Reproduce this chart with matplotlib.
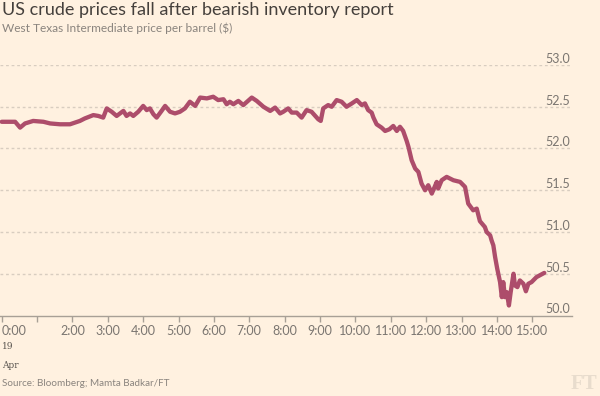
import matplotlib
matplotlib.use("Agg")
import matplotlib.pyplot as plt
from matplotlib.ticker import FixedLocator, FixedFormatter

# ---- data (hours since 0:00, 19 Apr; WTI price $) ----
hours = [
    0.00, 0.38, 0.52, 0.66, 0.89, 1.18, 1.37, 1.65, 1.93, 2.21,
    2.35, 2.59, 2.73, 2.87, 2.97, 3.11, 3.25, 3.44, 3.53, 3.63,
    3.72, 3.86, 4.00, 4.10, 4.19, 4.29, 4.38, 4.52, 4.62, 4.76,
    4.90, 5.04, 5.18, 5.32, 5.47, 5.61, 5.80, 5.98, 6.12, 6.27,
    6.36, 6.45, 6.55, 6.69, 6.83, 7.07, 7.21, 7.40, 7.59, 7.73,
    7.87, 7.96, 8.10, 8.20, 8.34, 8.48, 8.62, 8.76, 8.95, 9.02,
    9.09, 9.23, 9.33, 9.47, 9.61, 9.75, 9.90, 10.04, 10.18, 10.27,
    10.36, 10.46, 10.51, 10.60, 10.74, 10.84, 10.96, 11.07, 11.17, 11.26,
    11.35, 11.45, 11.50, 11.59, 11.69, 11.78, 11.87, 11.97, 12.06, 12.16,
    12.30, 12.34, 12.44, 12.58, 12.77, 12.96, 13.10, 13.19, 13.33, 13.43,
    13.52, 13.66, 13.71, 13.81, 13.85, 13.90, 13.95, 14.01, 14.09, 14.14,
    14.18, 14.23, 14.28, 14.34, 14.39, 14.47, 14.51, 14.58, 14.65, 14.75,
    14.82, 14.89, 14.98, 15.12, 15.34,
]
prices = [
    52.32, 52.32, 52.25, 52.30, 52.33, 52.32, 52.30, 52.29, 52.29, 52.33,
    52.36, 52.40, 52.39, 52.37, 52.48, 52.44, 52.39, 52.45, 52.39, 52.42,
    52.39, 52.44, 52.51, 52.46, 52.48, 52.41, 52.37, 52.45, 52.51, 52.44,
    52.42, 52.44, 52.48, 52.56, 52.51, 52.61, 52.60, 52.62, 52.58, 52.59,
    52.53, 52.56, 52.53, 52.57, 52.52, 52.61, 52.57, 52.50, 52.45, 52.49,
    52.42, 52.44, 52.48, 52.43, 52.43, 52.37, 52.46, 52.44, 52.35, 52.33,
    52.48, 52.52, 52.50, 52.58, 52.56, 52.50, 52.54, 52.58, 52.52, 52.54,
    52.46, 52.43, 52.37, 52.29, 52.25, 52.21, 52.23, 52.27, 52.21, 52.26,
    52.21, 52.09, 52.02, 51.86, 51.76, 51.72, 51.58, 51.50, 51.56, 51.46,
    51.60, 51.52, 51.62, 51.66, 51.62, 51.60, 51.54, 51.34, 51.26, 51.28,
    51.13, 51.06, 51.00, 50.96, 50.90, 50.84, 50.70, 50.56, 50.40, 50.22,
    50.40, 50.22, 50.28, 50.12, 50.28, 50.50, 50.36, 50.34, 50.42, 50.38,
    50.29, 50.38, 50.40, 50.46, 50.51,
]

x_ticks = list(range(0, 16))
x_labels = ["0:00", "", "2:00", "3:00", "4:00", "5:00", "6:00", "7:00", "8:00",
            "9:00", "10:00", "11:00", "12:00", "13:00", "14:00", "15:00"]
y_ticks = [50.0, 50.5, 51.0, 51.5, 52.0, 52.5, 53.0]
y_labels = ["50.0", "50.5", "51.0", "51.5", "52.0", "52.5", "53.0"]

title = "US crude prices fall after bearish inventory report"
subtitle = "West Texas Intermediate price per barrel ($)"
source = "Source: Bloomberg; Mamta Badkar/FT"

BG = "#fff1e0"
LINE = "#ad4d6b"
GRID = "#d8cdc0"
TXT = "#7a7570"

W, H = 600, 396
plt.rcParams["font.family"] = ["Lato", "DejaVu Sans"]
fig = plt.figure(figsize=(W / 100, H / 100), dpi=100, facecolor=BG)

ax_left, ax_right = 0.0, 571.7
ax_top, ax_bot = 65.0, 315.5
ax = fig.add_axes([ax_left / W, 1 - ax_bot / H, (ax_right - ax_left) / W, (ax_bot - ax_top) / H])
ax.set_facecolor(BG)

px_per_hour = 35.37
x0 = -1.7 / px_per_hour
ax.set_xlim(x0, x0 + (ax_right - ax_left) / px_per_hour)
ax.set_ylim(50.0, 53.0)

for v in y_ticks[1:]:
    ax.axhline(v, color=GRID, lw=1.0, ls=(0, (2, 2)), zorder=1)

ax.plot(hours, prices, color=LINE, lw=3.1, solid_joinstyle="round",
        solid_capstyle="round", zorder=3, clip_on=False)

for s in ["left", "top", "right"]:
    ax.spines[s].set_visible(False)
ax.spines["bottom"].set_color("#a8a096")
ax.spines["bottom"].set_linewidth(1.0)

ax.xaxis.set_major_locator(FixedLocator(x_ticks))
ax.xaxis.set_major_formatter(FixedFormatter(x_labels))
ax.tick_params(axis="x", length=4, width=1, color="#a8a096", pad=3,
               labelsize=9.0, labelcolor=TXT)
xl = ax.get_xticklabels()
xl[0].set_ha("left")

ax.yaxis.tick_right()
ax.yaxis.set_major_locator(FixedLocator(y_ticks))
ax.yaxis.set_major_formatter(FixedFormatter(y_labels))
ax.tick_params(axis="y", length=0, pad=-1, labelsize=9.0, labelcolor=TXT)
for lbl in ax.get_yticklabels():
    lbl.set_ha("right")
    lbl.set_va("bottom")

fig.text(2 / W, 1 - 2 / H, title, fontsize=13.0, color="#45403c", va="top", ha="left")
fig.text(2 / W, 1 - 23 / H, subtitle, fontsize=8.6, color="#8a847e", va="top", ha="left")
fig.text(2 / W, 1 - 342 / H, "19", fontsize=6.5, color="#5a5550", va="top", ha="left",
         family="DejaVu Serif")
fig.text(2 / W, 1 - 361 / H, "Apr", fontsize=6.5, color="#5a5550", va="top", ha="left",
         family="DejaVu Serif")
fig.text(2 / W, 1 - 379 / H, source, fontsize=7.1, color="#8a847e", va="top", ha="left")
fig.text(597 / W, 1 - 394 / H, "FT", fontsize=15, color="#e8dccd", va="bottom", ha="right",
         family="Liberation Serif", weight="bold")

fig.savefig("out.png", dpi=100, facecolor=BG)
